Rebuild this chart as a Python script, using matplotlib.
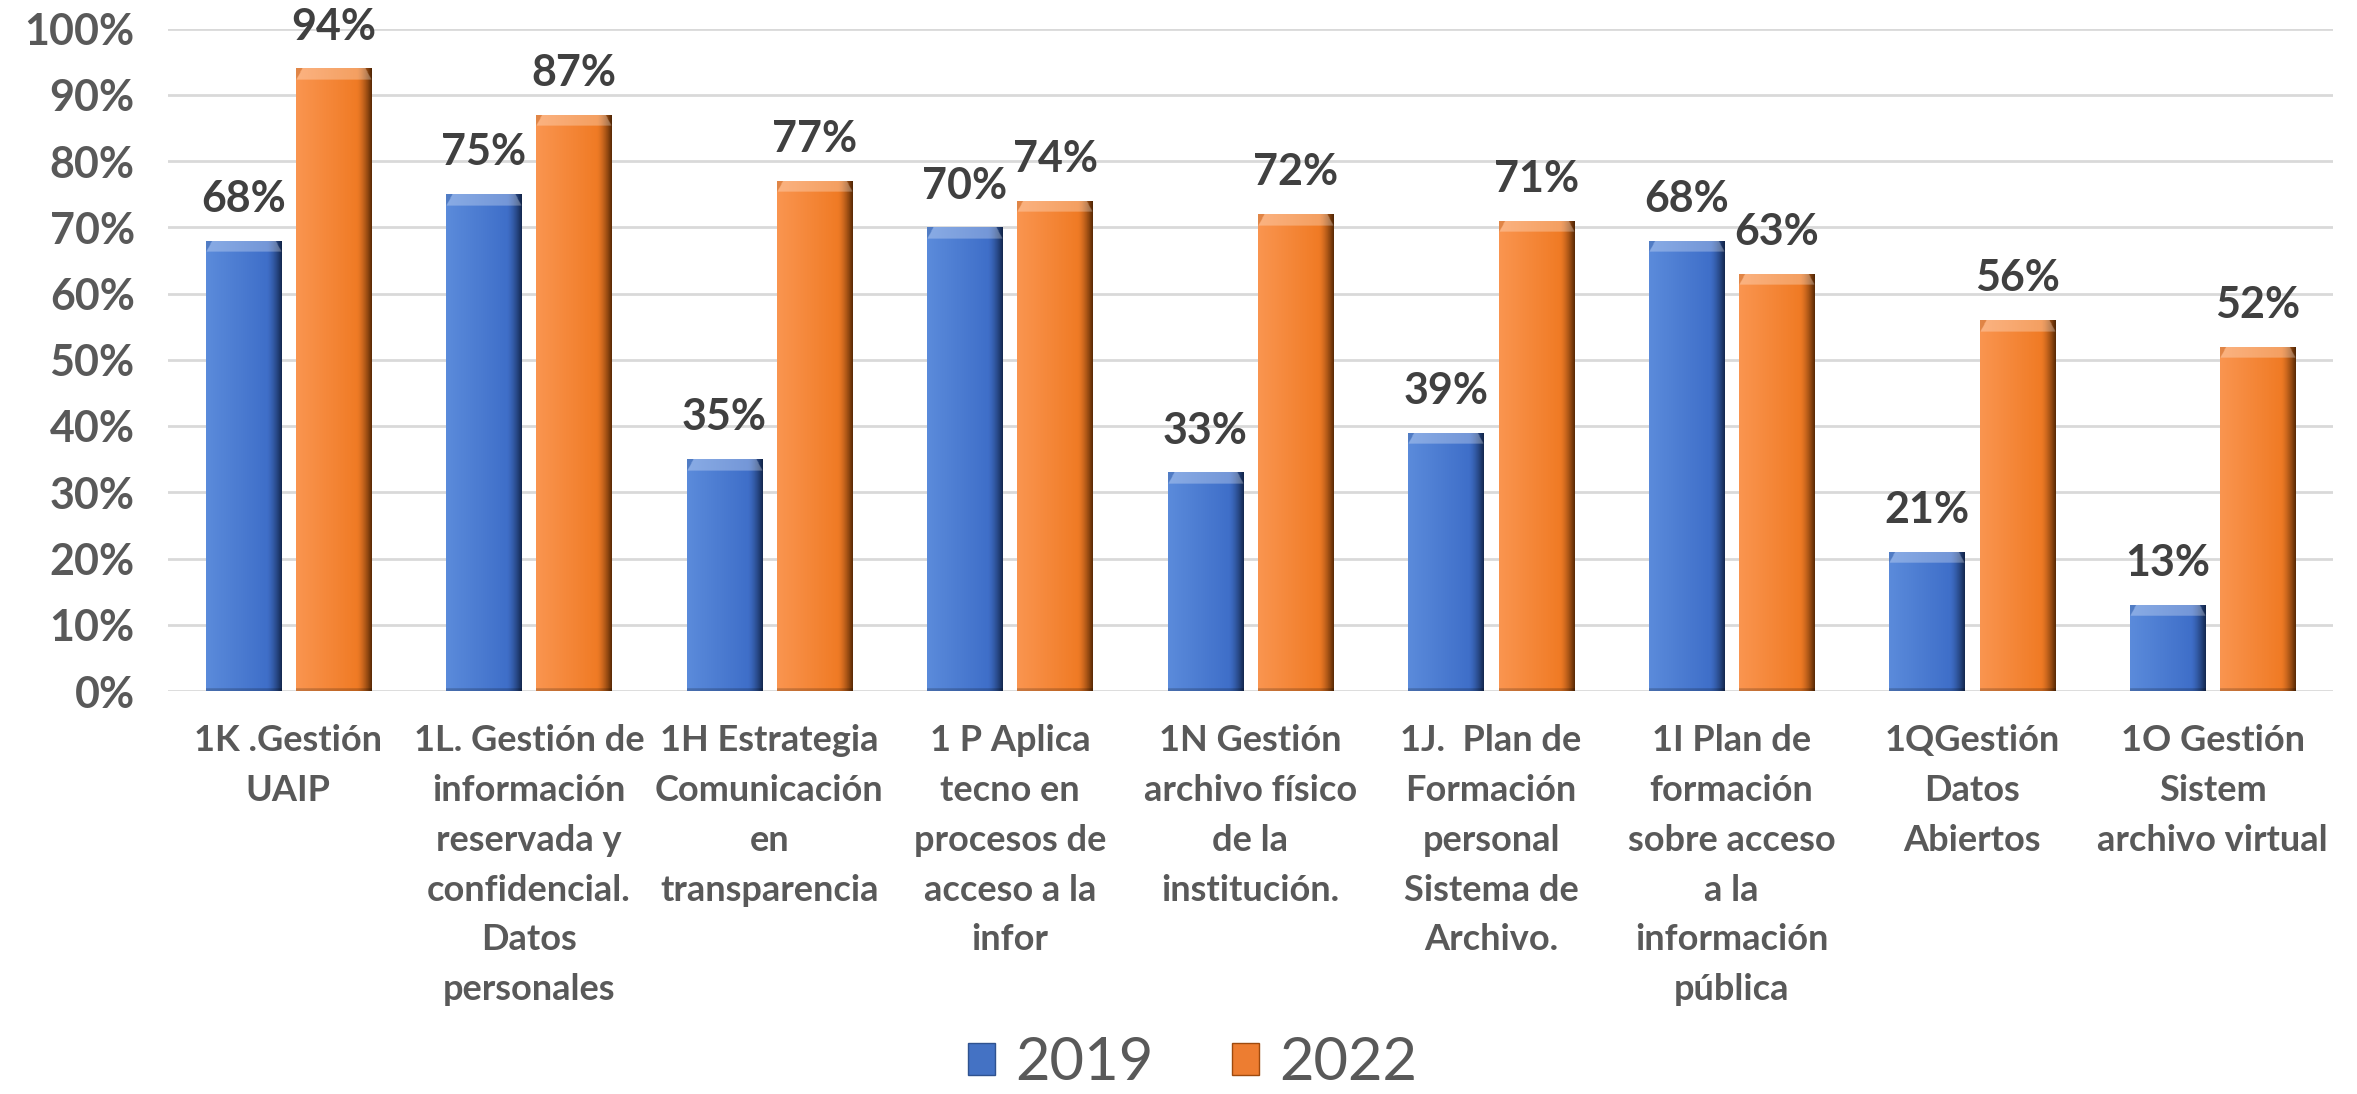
import numpy as np
import matplotlib
matplotlib.use("Agg")
import matplotlib.pyplot as plt
from matplotlib.colors import to_rgb
from matplotlib.patches import Patch

categories = [
    "1K .Gestión\nUAIP",
    "1L. Gestión de\ninformación\nreservada y\nconfidencial.\nDatos\npersonales",
    "1H Estrategia\nComunicación\nen\ntransparencia",
    "1 P Aplica\ntecno en\nprocesos de\nacceso a la\ninfor",
    "1N Gestión\narchivo físico\nde la\ninstitución.",
    "1J.  Plan de\nFormación\npersonal\nSistema de\nArchivo.",
    "1I Plan de\nformación\nsobre acceso\na la\ninformación\npública",
    "1QGestión\nDatos\nAbiertos",
    "1O Gestión\nSistem\narchivo virtual",
]
series_names = ["2019", "2022"]
values_2019 = [68, 75, 35, 70, 33, 39, 68, 21, 13]
values_2022 = [94, 87, 77, 74, 72, 71, 63, 56, 52]
yticks = [0, 10, 20, 30, 40, 50, 60, 70, 80, 90, 100]

FONT = ["Lato", "DejaVu Sans"]
plt.rcParams["font.family"] = FONT

W, H = 2357, 1094
fig = plt.figure(figsize=(W / 100, H / 100), dpi=100)
ax = fig.add_axes([168 / W, 1 - 691 / H, (2333 - 168) / W, (691 - 28.5) / H])

x = np.arange(len(categories))
bw = 0.3125
off = 0.1875
blue = "#4472C4"
orange = "#ED7D31"
b1 = ax.bar(x - off, values_2019, bw, color=blue, zorder=3)
b2 = ax.bar(x + off, values_2022, bw, color=orange, zorder=3)


def mix(c1, c2, t):
    c1 = np.array(to_rgb(c1)); c2 = np.array(to_rgb(c2))
    return c1 + (c2 - c1) * t


def shade(bars, light, base, dark):
    for bar in bars:
        x0, w, h = bar.get_x(), bar.get_width(), bar.get_height()
        nx = 120
        t = np.linspace(0, 1, nx)
        prof = np.zeros((nx, 3))
        for i, tt in enumerate(t):
            if tt < 0.8:
                prof[i] = mix(light, base, tt / 0.8)
            else:
                prof[i] = mix(base, dark, ((tt - 0.8) / 0.2) ** 1.5)
        ny = max(int(h * 12), 20)
        ys = np.linspace(h, 0, ny)
        img = np.tile(prof[None, :, :], (ny, 1, 1))
        bev = 1.7
        for j, yy in enumerate(ys):
            d = h - yy
            if d < bev:
                inset = d / bev
                for i, tt in enumerate(t):
                    edge = min(tt, 1 - tt) * 12
                    if edge < 1 - inset:
                        img[j, i] = img[j, i] * 0.9
                    else:
                        img[j, i] = img[j, i] + (1 - img[j, i]) * 0.28
            elif yy < 0.4:
                img[j] = img[j] * 0.8
        im = ax.imshow(img, extent=(x0, x0 + w, 0, h), aspect="auto",
                       origin="upper", interpolation="bilinear", zorder=4)
        im.set_clip_path(bar)


shade(b1, "#5B8BDB", "#3F6FC9", "#142850")
shade(b2, "#FA9550", "#F07B25", "#5A2A05")

ax.set_xlim(-0.5, len(categories) - 0.5)
ax.set_ylim(0, 100)
ax.set_yticks(yticks)
ax.set_yticklabels([f"{v}%" for v in yticks], fontsize=31, fontweight="bold",
                   color="#595959")
ax.set_xticks(x)
ax.set_xticklabels(categories, fontsize=26, fontweight="bold", color="#595959",
                   linespacing=1.62, va="top")
ax.tick_params(axis="y", length=0, pad=24)
ax.tick_params(axis="x", length=0, pad=24)
for s in ax.spines.values():
    s.set_visible(False)
ax.grid(axis="y", color="#D9D9D9", linewidth=2, zorder=0)
ax.set_axisbelow(True)

for bars, vals in ((b1, values_2019), (b2, values_2022)):
    for bar, v in zip(bars, vals):
        ax.annotate(f"{v}%", (bar.get_x() + bar.get_width() / 2, v),
                    xytext=(0, 30), textcoords="offset points",
                    ha="center", va="center", fontsize=31, fontweight="bold",
                    color="#404040", zorder=6)

handles = [Patch(facecolor=blue, edgecolor="#2F528F"),
           Patch(facecolor=orange, edgecolor="#9E4A0E")]
fig.legend(handles, series_names, loc="center", bbox_to_anchor=(0.506, 1 - 1063 / H),
           ncol=2, frameon=False, fontsize=43, labelcolor="#595959",
           handlelength=0.45, handleheight=0.45, handletextpad=0.35,
           columnspacing=1.3, borderpad=0.1)

fig.savefig("out.png", dpi=100)
